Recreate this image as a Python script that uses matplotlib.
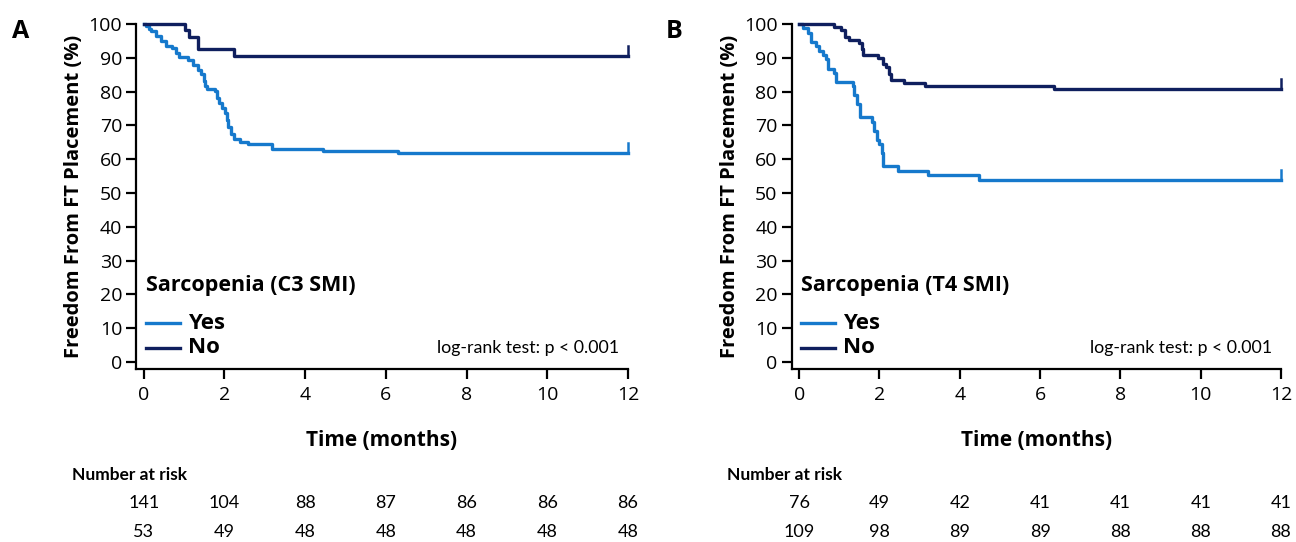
import matplotlib
matplotlib.use("Agg")
import matplotlib.pyplot as plt
import matplotlib.transforms as mtransforms

plt.rcParams.update({
    "font.family": "Open Sans",
    "font.size": 13,
    "axes.linewidth": 1.6,
})

C_YES = "#1679cc"
C_NO = "#0f1f5e"

# ---- data ----
A_yes_t = [0, 0.06, 0.12, 0.19, 0.31, 0.44, 0.56, 0.69, 0.81, 0.88, 1.10, 1.22, 1.35,
           1.43, 1.49, 1.51, 1.57, 1.76, 1.82, 1.87, 1.95, 2.01, 2.07, 2.09, 2.17, 2.23,
           2.38, 2.59, 3.17, 4.45, 6.31]
A_yes_s = [100, 99.3, 98.6, 97.9, 96.5, 95.0, 93.6, 92.9, 91.5, 90.1, 89.4, 88.0, 86.5,
           85.1, 83.0, 81.6, 80.9, 80.1, 78.0, 76.6, 75.2, 73.8, 71.6, 69.5, 67.4, 66.0,
           65.2, 64.5, 63.1, 62.4, 61.7]
A_no_t = [0, 1.02, 1.12, 1.35, 2.23]
A_no_s = [100, 98.1, 96.2, 92.5, 90.6]

B_yes_t = [0, 0.09, 0.22, 0.30, 0.42, 0.50, 0.59, 0.67, 0.71, 0.88, 0.92, 1.33, 1.37,
           1.43, 1.52, 1.81, 1.87, 1.93, 2.00, 2.06, 2.08, 2.45, 3.22, 4.48]
B_yes_s = [100, 98.7, 97.4, 94.7, 93.4, 92.1, 90.8, 89.5, 86.8, 85.5, 82.9, 81.6, 78.9,
           76.3, 72.4, 71.1, 68.4, 65.8, 64.5, 61.8, 57.9, 56.6, 55.3, 53.9]
B_no_t = [0, 0.88, 1.04, 1.15, 1.25, 1.50, 1.57, 1.60, 1.96, 2.08, 2.16, 2.23, 2.29,
          2.62, 3.14, 6.34]
B_no_s = [100, 99.1, 98.2, 96.3, 95.4, 94.5, 92.7, 90.8, 89.9, 88.1, 87.2, 85.3, 83.5,
          82.6, 81.7, 80.8]

risk_times = [0, 2, 4, 6, 8, 10, 12]
A_risk_yes = [141, 104, 88, 87, 86, 86, 86]
A_risk_no = [53, 49, 48, 48, 48, 48, 48]
B_risk_yes = [76, 49, 42, 41, 41, 41, 41]
B_risk_no = [109, 98, 89, 89, 88, 88, 88]

T_END = 12

fig = plt.figure(figsize=(12.96, 5.42), dpi=100)
H = 542.0
W = 1296.0


def km(ax, t, s, color):
    tt = list(t) + [T_END]
    ss = list(s) + [s[-1]]
    ax.step(tt, ss, where="post", color=color, lw=2.4, clip_on=False, zorder=3)
    # censor mark at end of follow-up
    ax.plot([T_END, T_END], [s[-1], s[-1] + 3], color=color, lw=1.8,
            clip_on=False, zorder=3)


def panel(left_px, right_px, letter, letter_x, title, yes, no, risk_yes, risk_no, nar_x):
    top_px, bot_px = 24, 369
    ax = fig.add_axes([left_px / W, 1 - bot_px / H, (right_px - left_px) / W,
                       (bot_px - top_px) / H])
    km(ax, *yes, C_YES)
    km(ax, *no, C_NO)
    ax.set_xlim(-0.19, 12)
    ax.set_ylim(-2.1, 100)
    ax.spines["top"].set_visible(False)
    ax.spines["right"].set_visible(False)
    ax.spines["left"].set_bounds(-2.1, 100)
    ax.set_xticks(range(0, 13, 2))
    ax.set_yticks(range(0, 101, 10))
    ax.tick_params(direction="out", length=7, width=1.6, labelsize=14, pad=3)
    ax.tick_params(axis="x", pad=5)
    ax.set_xlabel("Time (months)", fontsize=15, fontweight="bold", labelpad=19)
    ax.set_ylabel("Freedom From FT Placement (%)", fontsize=14.5, fontweight="bold",
                  labelpad=3)

    fig.text(letter_x / W, 1 - 32 / H, letter, fontsize=18, fontweight="bold",
             ha="left", va="center")

    # legend
    ax.text(0.02, 0.243, title, transform=ax.transAxes, fontsize=15.5,
            fontweight="bold", va="center", ha="left")
    for yy, lab, col in [(0.133, "Yes", C_YES), (0.061, "No", C_NO)]:
        ax.plot([0.02, 0.089], [yy, yy], transform=ax.transAxes, color=col, lw=2.4,
                clip_on=False)
        ax.text(0.106, yy, lab, transform=ax.transAxes, fontsize=16,
                fontweight="bold", va="center", ha="left")
    ax.text(0.982, 0.061, "log-rank test: p < 0.001", transform=ax.transAxes,
            fontsize=12.8, family="Lato", va="center", ha="right")

    # number at risk table
    fig.text(nar_x / W, 1 - 475 / H, "Number at risk", fontsize=12.5, family="Lato",
             fontweight="bold", va="center", ha="left")
    tr = mtransforms.blended_transform_factory(ax.transData, fig.transFigure)
    for t, a, b in zip(risk_times, risk_yes, risk_no):
        ax.text(t, 1 - 503 / H, str(a), transform=tr, fontsize=13, family="Lato",
                ha="center", va="center", clip_on=False)
        ax.text(t, 1 - 532 / H, str(b), transform=tr, fontsize=13, family="Lato",
                ha="center", va="center", clip_on=False)
    return ax


panel(136, 628, "A", 12, "Sarcopenia (C3 SMI)", (A_yes_t, A_yes_s), (A_no_t, A_no_s),
      A_risk_yes, A_risk_no, 72)
panel(791.5, 1281, "B", 666, "Sarcopenia (T4 SMI)", (B_yes_t, B_yes_s), (B_no_t, B_no_s),
      B_risk_yes, B_risk_no, 727)

fig.savefig("out.png", dpi=100)
